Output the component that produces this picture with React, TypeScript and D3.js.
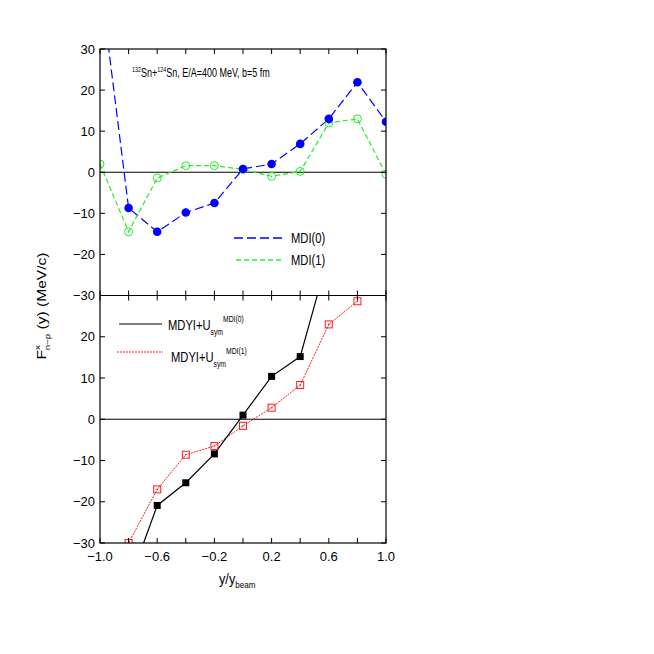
import React from "react";
import * as d3 from "d3";

const xs = [-1.0, -0.8, -0.6, -0.4, -0.2, 0.0, 0.2, 0.4, 0.6, 0.8, 1.0];
const mdi0 = [47, -8.7, -14.5, -9.8, -7.5, 0.8, 2.0, 6.9, 13.0, 21.9, 12.3];
const mdi1 = [2.0, -14.5, -1.4, 1.6, 1.6, 0.7, -1.0, 0.2, 12.0, 13.0, -0.5];
const xsBot0 = [-0.8, -0.6, -0.4, -0.2, 0.0, 0.2, 0.4, 0.6];
const mdyi0 = [-40, -20.9, -15.4, -8.4, 1.0, 10.4, 15.2, 40];
const xsBot1 = [-0.8, -0.6, -0.4, -0.2, 0.0, 0.2, 0.4, 0.6, 0.8];
const mdyi1 = [-30, -17.0, -8.6, -6.5, -1.6, 2.8, 8.3, 23.0, 28.6];
const xTickLabels = [-1.0, -0.6, -0.2, 0.2, 0.6, 1.0];
const xMinorTicks = [-1.0, -0.8, -0.6, -0.4, -0.2, 0.0, 0.2, 0.4, 0.6, 0.8, 1.0];
const topYTicks = [30, 20, 10, 0, -10, -20, -30];
const botYTicks = [20, 10, 0, -10, -20, -30];

const L = 100, R = 386, T = 49, M = 295.5, B = 543;
const FONT = "'Liberation Sans', Arial, sans-serif";
const BLUE = "#0000ff";
const GREEN = "#22ee22";
const RED = "#ff1a1a";

export default function App() {
  const x = d3.scaleLinear().domain([-1, 1]).range([L, R]);
  const yT = d3.scaleLinear().domain([-30, 30]).range([M, T]);
  const yB = d3.scaleLinear().domain([-30, 30]).range([B, M]);
  const lineT = d3.line<[number, number]>().x(d => x(d[0])).y(d => yT(d[1]));
  const lineB = d3.line<[number, number]>().x(d => x(d[0])).y(d => yB(d[1]));
  const fmt = (v: number) => (v < 0 ? "\u2212" : "") + Math.abs(v).toString();
  const fmtX = (v: number) => (v < 0 ? "\u2212" : "") + Math.abs(v).toFixed(1);
  const d0 = xs.map((v, i) => [v, mdi0[i]] as [number, number]);
  const d1 = xs.map((v, i) => [v, mdi1[i]] as [number, number]);
  const b0 = xsBot0.map((v, i) => [v, mdyi0[i]] as [number, number]);
  const b1 = xsBot1.map((v, i) => [v, mdyi1[i]] as [number, number]);
  const tk = 5;
  const sx = 0.8;
  return (
    <svg width={654} height={654} style={{ display: "block", position: "absolute", left: 0, top: 0 }} fontFamily={FONT}>
      <rect width={654} height={654} fill="white" />
      <defs>
        <clipPath id="cT"><rect x={L} y={T} width={R - L} height={M - T} /></clipPath>
        <clipPath id="cB"><rect x={L} y={M} width={R - L} height={B - M} /></clipPath>
      </defs>
      {/* zero lines */}
      <line x1={L} x2={R} y1={yT(0)} y2={yT(0)} stroke="black" strokeWidth={1.2} />
      <line x1={L} x2={R} y1={yB(0)} y2={yB(0)} stroke="black" strokeWidth={1.2} />
      {/* top panel data */}
      <g clipPath="url(#cT)">
        <path d={lineT(d0)!} fill="none" stroke={BLUE} strokeWidth={1.2} strokeDasharray="9,4" />
        <path d={lineT(d1)!} fill="none" stroke={GREEN} strokeWidth={1.2} strokeDasharray="5,3" />
        {d1.map((d, i) => (
          <circle key={"g" + i} cx={x(d[0])} cy={yT(d[1])} r={4} fill="none" stroke={GREEN} strokeWidth={1} />
        ))}
        {d0.map((d, i) => (
          <circle key={"b" + i} cx={x(d[0])} cy={yT(d[1])} r={4.3} fill={BLUE} />
        ))}
      </g>
      {/* bottom panel data */}
      <g clipPath="url(#cB)">
        <path d={lineB(b1)!} fill="none" stroke={RED} strokeWidth={1} strokeDasharray="2,1" />
        <path d={lineB(b0)!} fill="none" stroke="black" strokeWidth={1.2} />
        {b1.map((d, i) => (
          <g key={"r" + i}>
            <rect x={x(d[0]) - 3.5} y={yB(d[1]) - 3.5} width={7} height={7} fill="none" stroke={RED} strokeWidth={1} />
            <circle cx={x(d[0])} cy={yB(d[1])} r={0.8} fill={RED} />
          </g>
        ))}
        {b0.map((d, i) => (
          <rect key={"k" + i} x={x(d[0]) - 3.5} y={yB(d[1]) - 3.5} width={7} height={7} fill="black" />
        ))}
      </g>
      {/* frames */}
      <rect x={L} y={T} width={R - L} height={B - T} fill="none" stroke="black" strokeWidth={1.2} />
      <line x1={L} x2={R} y1={M} y2={M} stroke="black" strokeWidth={1.2} />
      {/* x ticks */}
      {xMinorTicks.map((v, i) => (
        <g key={"xt" + i} stroke="black" strokeWidth={1}>
          <line x1={x(v)} x2={x(v)} y1={T} y2={T + tk} />
          <line x1={x(v)} x2={x(v)} y1={M} y2={M - tk} />
          <line x1={x(v)} x2={x(v)} y1={M} y2={M + tk} />
          <line x1={x(v)} x2={x(v)} y1={B} y2={B - tk} />
        </g>
      ))}
      {xTickLabels.map((v, i) => (
        <text key={"xl" + i} x={x(v)} y={B + 18} fontSize={13} textAnchor="middle">{fmtX(v)}</text>
      ))}
      {/* y ticks */}
      {topYTicks.map((v, i) => (
        <g key={"yt" + i}>
          <line x1={L} x2={L + tk} y1={yT(v)} y2={yT(v)} stroke="black" />
          <line x1={R} x2={R - tk} y1={yT(v)} y2={yT(v)} stroke="black" />
          <text x={L - 5} y={yT(v) + 4.5} fontSize={13} textAnchor="end">{fmt(v)}</text>
        </g>
      ))}
      {botYTicks.map((v, i) => (
        <g key={"yb" + i}>
          <line x1={L} x2={L + tk} y1={yB(v)} y2={yB(v)} stroke="black" />
          <line x1={R} x2={R - tk} y1={yB(v)} y2={yB(v)} stroke="black" />
          <text x={L - 5} y={yB(v) + 4.5} fontSize={13} textAnchor="end">{fmt(v)}</text>
        </g>
      ))}
      {/* annotation */}
      <text transform={`translate(132,77) scale(0.72,1)`} fontSize={12.5}>
        <tspan fontSize={7.5} dy={-5}>132</tspan>
        <tspan dy={5}>Sn+</tspan>
        <tspan fontSize={7.5} dy={-5}>124</tspan>
        <tspan dy={5}>Sn, E/A=400 MeV, b=5 fm</tspan>
      </text>
      {/* top legend */}
      <line x1={234} x2={283} y1={238} y2={238} stroke={BLUE} strokeWidth={1.3} strokeDasharray="9,4" />
      <text transform={`translate(291,243) scale(${sx},1)`} fontSize={14}>MDI(0)</text>
      <line x1={236} x2={282} y1={260} y2={260} stroke={GREEN} strokeWidth={1.5} strokeDasharray="5,3" />
      <text transform={`translate(291,265) scale(${sx},1)`} fontSize={14}>MDI(1)</text>
      {/* bottom legend */}
      <line x1={119} x2={162} y1={324} y2={324} stroke="black" strokeWidth={1.2} />
      <text transform={`translate(168,330) scale(${sx},1)`} fontSize={14}>
        MDYI+U
        <tspan fontSize={8.5} dy={5}>sym</tspan>
        <tspan fontSize={8.5} dy={-13}>MDI(0)</tspan>
      </text>
      <line x1={117} x2={163} y1={352} y2={352} stroke={RED} strokeWidth={1.2} strokeDasharray="2,1" />
      <text transform={`translate(171,362) scale(${sx},1)`} fontSize={14}>
        MDYI+U
        <tspan fontSize={8.5} dy={5}>sym</tspan>
        <tspan fontSize={8.5} dy={-13}>MDI(1)</tspan>
      </text>
      {/* axis labels */}
      <text transform={`translate(219,584) scale(0.85,1)`} fontSize={15}>
        y/y<tspan fontSize={9.5} dy={4}>beam</tspan>
      </text>
      <text transform="translate(46,306) rotate(-90) scale(1.3,1)" fontSize={12} textAnchor="middle">
        F<tspan fontSize={7.5} dy={-6}>x</tspan>
        <tspan fontSize={7.5} dx={-4} dy={10}>n−p</tspan>
        <tspan dy={-4}> (y) (MeV/c)</tspan>
      </text>
    </svg>
  );
}
